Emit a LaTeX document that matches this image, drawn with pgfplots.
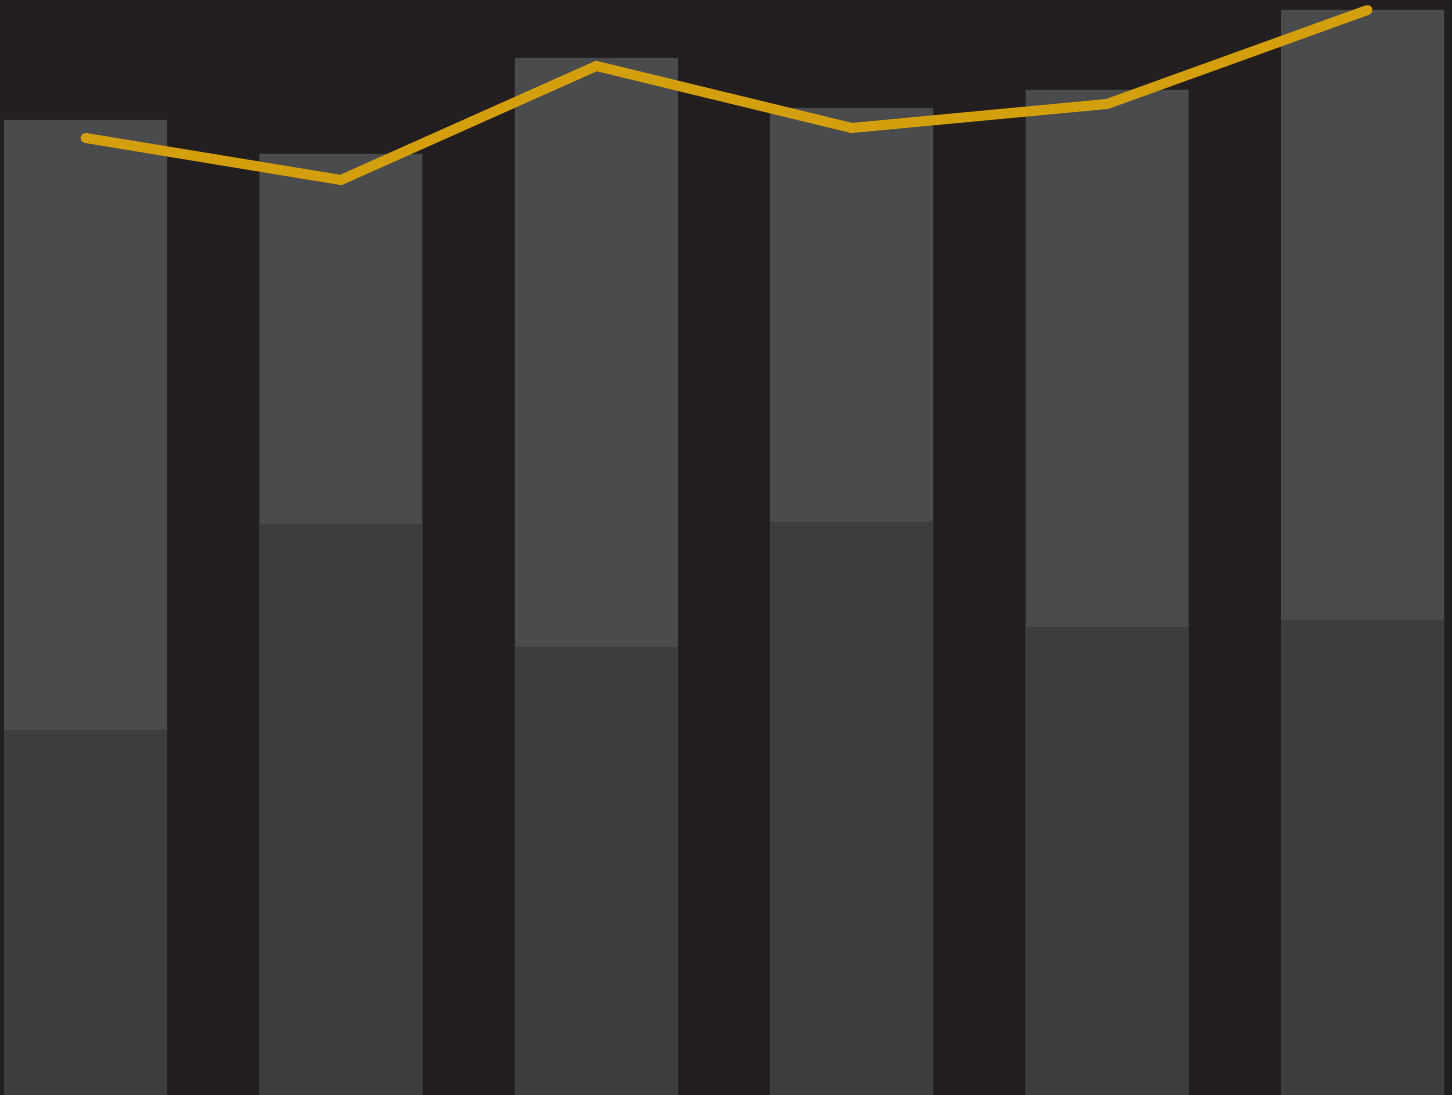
\documentclass[border=0pt]{standalone}
\usepackage{pgfplots}
\pgfplotsset{compat=1.18}
\definecolor{bg}{HTML}{231F20}
\definecolor{lowbar}{HTML}{3D3D3D}
\definecolor{upbar}{HTML}{4A4B4C}
\definecolor{gold}{HTML}{D49F0C}
\begin{document}
\begin{tikzpicture}
\useasboundingbox (0,0) rectangle (14.52cm,10.95cm);
\fill[bg] (0,0) rectangle (14.52cm,10.95cm);
\begin{axis}[
  at={(0,0)}, anchor=south west,
  scale only axis, width=14.52cm, height=10.95cm,
  xmin=-0.3348, xmax=5.3504, ymin=0, ymax=1095,
  axis lines=none, ticks=none, clip=true,
  ybar, bar width=1.63cm,
]
% total height (lower + upper segment)
\addplot[fill=upbar, draw=none, bar shift=0pt] coordinates {(0,975) (1,941) (2,1037) (3,987) (4,1005) (5,1085)};
% lower segment
\addplot[fill=lowbar, draw=none, bar shift=0pt] coordinates {(0,365) (1,571) (2,448) (3,573) (4,468) (5,475)};
% line
\addplot[sharp plot, gold, line width=0.1cm, line cap=round, line join=miter, mark=none] coordinates {(0,957) (1,915) (2,1029) (3,967) (4,991) (5.02,1085)};
\end{axis}
\end{tikzpicture}
\end{document}
